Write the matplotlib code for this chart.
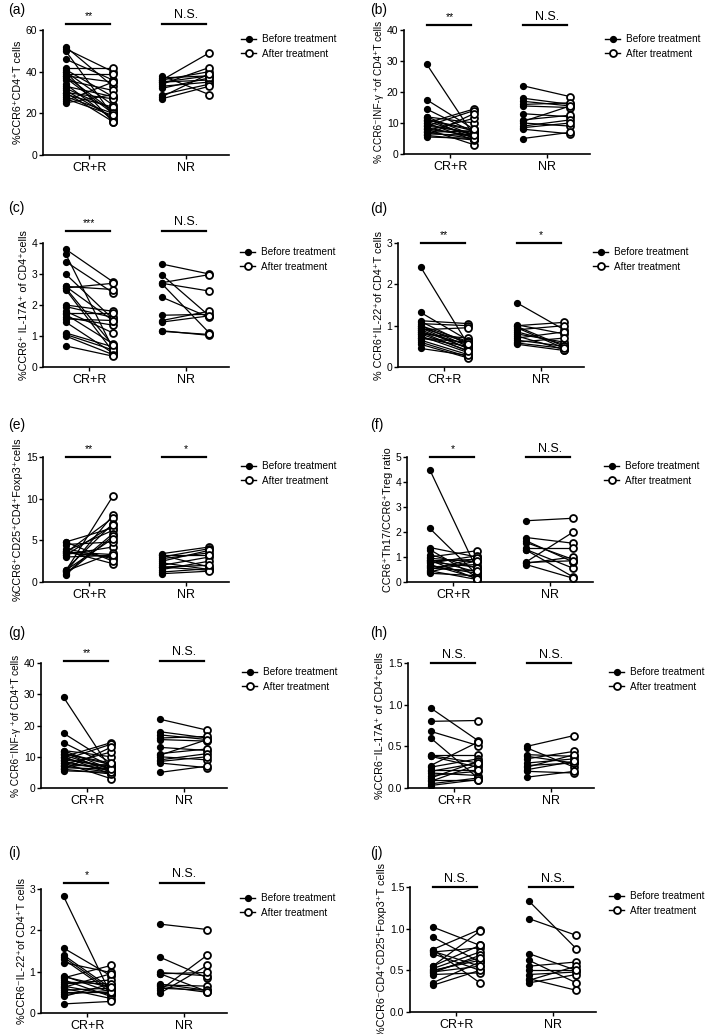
import matplotlib
matplotlib.use("Agg")
import matplotlib.pyplot as plt
from matplotlib.lines import Line2D

plt.rcParams['font.family'] = ['Liberation Sans', 'DejaVu Sans']

W, H = 709, 1034

groups = ["CR+R", "NR"]

# ---- data: (before, after) pairs per patient ----
a_cr_before = [52, 51, 50, 46, 42, 41, 40, 39, 38, 38, 37, 36, 34, 33, 32, 31, 30, 30, 29, 28, 27, 26, 25, 40]
a_cr_after = [33, 40, 19, 36, 42, 28, 24, 39, 21, 35, 20, 31, 17, 28, 22, 18, 16, 27, 23, 20, 19, 35, 29, 16]
a_nr_before = [38, 37, 36, 36, 35, 35, 34, 33, 32, 29, 28, 27]
a_nr_after = [29, 38, 49, 40, 36, 38, 42, 35, 37, 34, 39, 33]

b_cr_before = [29, 17.5, 14.5, 12, 11.5, 11, 10.5, 10, 10, 9.5, 9, 9, 8.5, 8, 8, 7.5, 7, 7, 6.5, 6, 6, 5.5, 12, 11]
b_cr_after = [6, 8, 7, 10, 5, 7.5, 6, 14.5, 4.5, 6.5, 7, 14, 5.5, 3, 6, 11.5, 5, 7.5, 6, 13, 4.5, 5, 6, 8]
b_nr_before = [22, 18, 17, 16, 15.5, 13, 11, 10, 9, 8.5, 8, 5, 10.5]
b_nr_after = [18.5, 16, 15.5, 16.5, 15, 12, 12.5, 9, 11, 10, 6.5, 7, 15.5]

c_cr_before = [3.8, 3.65, 3.4, 3.0, 2.6, 2.55, 2.5, 2.0, 1.95, 1.8, 1.7, 1.6, 1.55, 1.45, 1.1, 1.05, 1.0, 0.68, 2.6, 1.75, 2.55]
c_cr_after = [2.75, 0.6, 2.4, 1.55, 2.5, 2.7, 0.5, 1.8, 1.6, 1.1, 0.75, 1.35, 1.5, 0.45, 0.65, 0.55, 0.4, 0.35, 1.5, 1.75, 0.7]
c_nr_before = [3.32, 2.97, 2.72, 2.68, 2.25, 1.67, 1.5, 1.45, 1.17, 1.15, 2.7]
c_nr_after = [3.0, 1.65, 2.98, 1.1, 1.6, 1.7, 1.8, 1.65, 1.02, 1.05, 2.45]

d_cr_before = [2.42, 1.32, 1.12, 1.05, 1.0, 0.95, 0.9, 0.9, 0.85, 0.8, 0.8, 0.75, 0.7, 0.65, 0.6, 0.55, 0.45, 1.0, 0.95, 0.85, 0.7, 1.1]
d_cr_after = [0.55, 0.65, 1.05, 1.0, 0.5, 0.6, 0.95, 0.45, 0.55, 0.4, 0.7, 0.35, 0.5, 0.3, 0.25, 0.22, 0.28, 0.62, 0.45, 0.38, 0.6, 0.55]
d_nr_before = [1.55, 1.02, 1.0, 0.95, 0.9, 0.85, 0.8, 0.75, 0.7, 0.65, 0.6, 0.55, 0.98, 0.58]
d_nr_after = [0.9, 0.8, 1.08, 0.45, 1.0, 0.55, 0.6, 0.42, 0.85, 0.5, 0.7, 0.4, 0.5, 0.45]

e_cr_before = [1.3, 1.2, 3.5, 1.5, 4.8, 3.7, 1.0, 0.9, 3.3, 4.5, 3.0, 3.5, 4.0, 3.7, 1.3, 4.8, 3.2, 1.4, 3.6]
e_cr_after = [10.3, 8.0, 7.7, 7.0, 6.5, 6.2, 5.8, 5.5, 4.2, 4.8, 3.2, 3.0, 2.8, 2.2, 3.5, 2.5, 6.8, 5.2, 3.3]
e_nr_before = [3.4, 3.2, 3.0, 2.8, 2.5, 2.3, 2.0, 1.8, 1.5, 1.2, 1.0, 1.8, 3.2]
e_nr_after = [4.2, 1.8, 4.0, 3.5, 3.8, 1.5, 3.0, 1.4, 2.5, 1.6, 1.3, 2.0, 3.2]

f_cr_before = [4.5, 2.15, 1.38, 1.3, 1.0, 0.95, 0.9, 0.85, 0.8, 0.75, 0.7, 0.6, 0.5, 0.45, 0.4, 0.35, 1.1, 0.65, 0.88, 0.55]
f_cr_after = [0.5, 0.3, 1.0, 0.2, 1.25, 0.8, 0.4, 0.9, 0.6, 1.05, 0.15, 0.7, 0.95, 0.1, 0.85, 0.25, 0.55, 0.35, 0.12, 0.45]
f_nr_before = [2.45, 1.78, 1.58, 1.35, 1.3, 1.28, 0.8, 0.75, 0.7, 1.65, 0.78]
f_nr_after = [2.55, 1.55, 0.9, 1.35, 0.55, 0.2, 2.0, 1.0, 0.15, 0.8, 0.85]

h_cr_before = [0.96, 0.8, 0.68, 0.6, 0.4, 0.38, 0.27, 0.25, 0.2, 0.18, 0.15, 0.12, 0.1, 0.08, 0.05, 0.03, 0.22, 0.39]
h_cr_after = [0.57, 0.81, 0.51, 0.12, 0.4, 0.25, 0.55, 0.35, 0.3, 0.15, 0.2, 0.32, 0.1, 0.28, 0.12, 0.1, 0.22, 0.3]
h_nr_before = [0.5, 0.48, 0.4, 0.35, 0.3, 0.27, 0.25, 0.2, 0.13, 0.38, 0.22]
h_nr_after = [0.63, 0.25, 0.38, 0.44, 0.35, 0.3, 0.4, 0.18, 0.2, 0.3, 0.32]

i_cr_before = [2.82, 1.57, 1.4, 1.35, 1.22, 0.9, 0.85, 0.8, 0.75, 0.7, 0.65, 0.6, 0.55, 0.5, 0.45, 0.4, 0.22, 1.3, 0.88, 0.62]
i_cr_after = [0.45, 0.9, 0.6, 0.55, 0.98, 0.5, 1.15, 0.4, 0.7, 0.8, 0.45, 0.35, 0.6, 0.5, 0.55, 0.7, 0.28, 0.5, 0.62, 0.95]
i_nr_before = [2.15, 1.35, 0.98, 0.95, 0.7, 0.65, 0.55, 0.48, 0.68, 0.6, 0.95]
i_nr_after = [2.02, 0.85, 0.9, 0.98, 0.55, 0.5, 1.4, 1.15, 0.65, 0.55, 0.52]

j_cr_before = [1.02, 0.9, 0.75, 0.75, 0.72, 0.7, 0.55, 0.52, 0.5, 0.48, 0.47, 0.45, 0.35, 0.32, 0.73, 0.55, 0.49]
j_cr_after = [0.8, 0.6, 0.99, 0.35, 0.77, 0.5, 0.97, 0.72, 0.62, 0.55, 0.68, 0.47, 0.6, 0.5, 0.55, 0.8, 0.65]
j_nr_before = [1.33, 1.12, 0.7, 0.62, 0.55, 0.45, 0.4, 0.38, 0.35, 0.5]
j_nr_after = [0.76, 0.92, 0.5, 0.35, 0.6, 0.48, 0.26, 0.55, 0.45, 0.5]

# (g) shows the same values as (b)
g_cr_before, g_cr_after = b_cr_before, b_cr_after
g_nr_before, g_nr_after = b_nr_before, b_nr_after

ylabels = {
    'a': "%CCR6⁺CD4⁺T cells",
    'b': "% CCR6⁻INF-γ ⁺of CD4⁺T cells",
    'c': "%CCR6⁺ IL-17A⁺ of CD4⁺cells",
    'd': "% CCR6⁺IL-22⁺of CD4⁺T cells",
    'e': "%CCR6⁺CD25⁺CD4⁺Foxp3⁺cells",
    'f': "CCR6⁺Th17/CCR6⁺Treg ratio",
    'g': "% CCR6⁻INF-γ ⁺of CD4⁺T cells",
    'h': "%CCR6⁻IL-17A⁺ of CD4⁺cells",
    'i': "%CCR6⁻IL-22⁺of CD4⁺T cells",
    'j': "%CCR6⁻CD4⁺CD25⁺Foxp3⁺T cells",
}
yticks = {
    'a': [0, 20, 40, 60], 'b': [0, 10, 20, 30, 40], 'c': [0, 1, 2, 3, 4],
    'd': [0, 1, 2, 3], 'e': [0, 5, 10, 15], 'f': [0, 1, 2, 3, 4, 5],
    'g': [0, 10, 20, 30, 40], 'h': [0.0, 0.5, 1.0, 1.5], 'i': [0, 1, 2, 3],
    'j': [0.0, 0.5, 1.0, 1.5],
}
sig = {
    'a': ("**", "N.S."), 'b': ("**", "N.S."), 'c': ("***", "N.S."), 'd': ("**", "*"),
    'e': ("**", "*"), 'f': ("*", "N.S."), 'g': ("**", "N.S."), 'h': ("N.S.", "N.S."),
    'i': ("*", "N.S."), 'j': ("N.S.", "N.S."),
}
data = {
    'a': (a_cr_before, a_cr_after, a_nr_before, a_nr_after),
    'b': (b_cr_before, b_cr_after, b_nr_before, b_nr_after),
    'c': (c_cr_before, c_cr_after, c_nr_before, c_nr_after),
    'd': (d_cr_before, d_cr_after, d_nr_before, d_nr_after),
    'e': (e_cr_before, e_cr_after, e_nr_before, e_nr_after),
    'f': (f_cr_before, f_cr_after, f_nr_before, f_nr_after),
    'g': (g_cr_before, g_cr_after, g_nr_before, g_nr_after),
    'h': (h_cr_before, h_cr_after, h_nr_before, h_nr_after),
    'i': (i_cr_before, i_cr_after, i_nr_before, i_nr_after),
    'j': (j_cr_before, j_cr_after, j_nr_before, j_nr_after),
}

# layout in pixels: axis left x, y of top tick, y of zero, bar height (axes frac),
# panel label y, legend left x
layout = {
    'a': (43, 30, 155, 1.05, 10, 241), 'b': (404, 30, 154, 1.04, 10, 605),
    'c': (43, 243, 367, 1.10, 208, 240), 'd': (398, 243, 367, 1.0, 209, 593),
    'e': (43, 457, 582, 1.0, 425, 241), 'f': (407, 457, 582, 1.0, 425, 604),
    'g': (41, 663, 788, 1.02, 633, 242), 'h': (408, 663, 788, 1.0, 633, 609),
    'i': (41, 889, 1013, 1.05, 853, 240), 'j': (410, 887, 1012, 1.0, 853, 609),
}
AXW = 186
off = 0.245

fig = plt.figure(figsize=(W / 100, H / 100), dpi=100)

for key in "abcdefghij":
    lx, ty, by, bar_y, laby, legx = layout[key]
    ax = fig.add_axes([lx / W, 1 - by / H, AXW / W, (by - ty) / H])
    crb, cra, nrb, nra = data[key]
    for g, (bef, aft) in enumerate([(crb, cra), (nrb, nra)]):
        for yb, ya in zip(bef, aft):
            ax.plot([g - off, g + off], [yb, ya], color='black', lw=0.9, zorder=2)
        ax.plot([g - off] * len(bef), bef, 'o', color='black', ms=4.2, zorder=3)
        ax.plot([g + off] * len(aft), aft, 'o', mfc='white', mec='black', mew=1.3, ms=5, zorder=3)
        # significance bar
        ax.plot([g - off, g + off - 0.03], [bar_y, bar_y], color='black', lw=1.6,
                transform=ax.get_xaxis_transform(), clip_on=False)
        s = sig[key][g]
        ax.text(g, bar_y + 0.02, s, transform=ax.get_xaxis_transform(), ha='center', va='bottom',
                fontsize=9 if s == "N.S." else 7.5)
    yt = yticks[key]
    ax.set_ylim(0, yt[-1])
    ax.set_yticks(yt)
    if key in ('h', 'j'):
        ax.set_yticklabels([f"{v:.1f}" for v in yt])
    ax.set_xlim(-0.48, 1.45)
    ax.set_xticks([0, 1])
    ax.set_xticklabels(groups, fontsize=9)
    ax.tick_params(axis='y', labelsize=7.5, length=3, width=1, pad=1)
    ax.tick_params(axis='x', length=3, width=1, pad=2)
    for sp in ('top', 'right'):
        ax.spines[sp].set_visible(False)
    for sp in ('left', 'bottom'):
        ax.spines[sp].set_linewidth(1.2)
    ax.set_ylabel(ylabels[key], fontsize=7.2 if key in ('b', 'g') else 7.8, labelpad=2)

    handles = [Line2D([], [], color='black', lw=1, marker='o', ms=4.2),
               Line2D([], [], color='black', lw=1, marker='o', mfc='white', mew=1.3, ms=5)]
    ax.legend(handles, ["Before treatment", "After treatment"], loc='upper left',
              bbox_to_anchor=((legx - lx) / AXW, 0.965), frameon=False, fontsize=7.2,
              borderpad=0, borderaxespad=0, handlelength=1.5, handletextpad=0.6,
              labelspacing=0.42)

    px = 8 if lx < 300 else 370
    fig.text(px / W, 1 - laby / H, f"({key})", fontsize=10, va='center', ha='left')

fig.savefig("out.png", dpi=100)
